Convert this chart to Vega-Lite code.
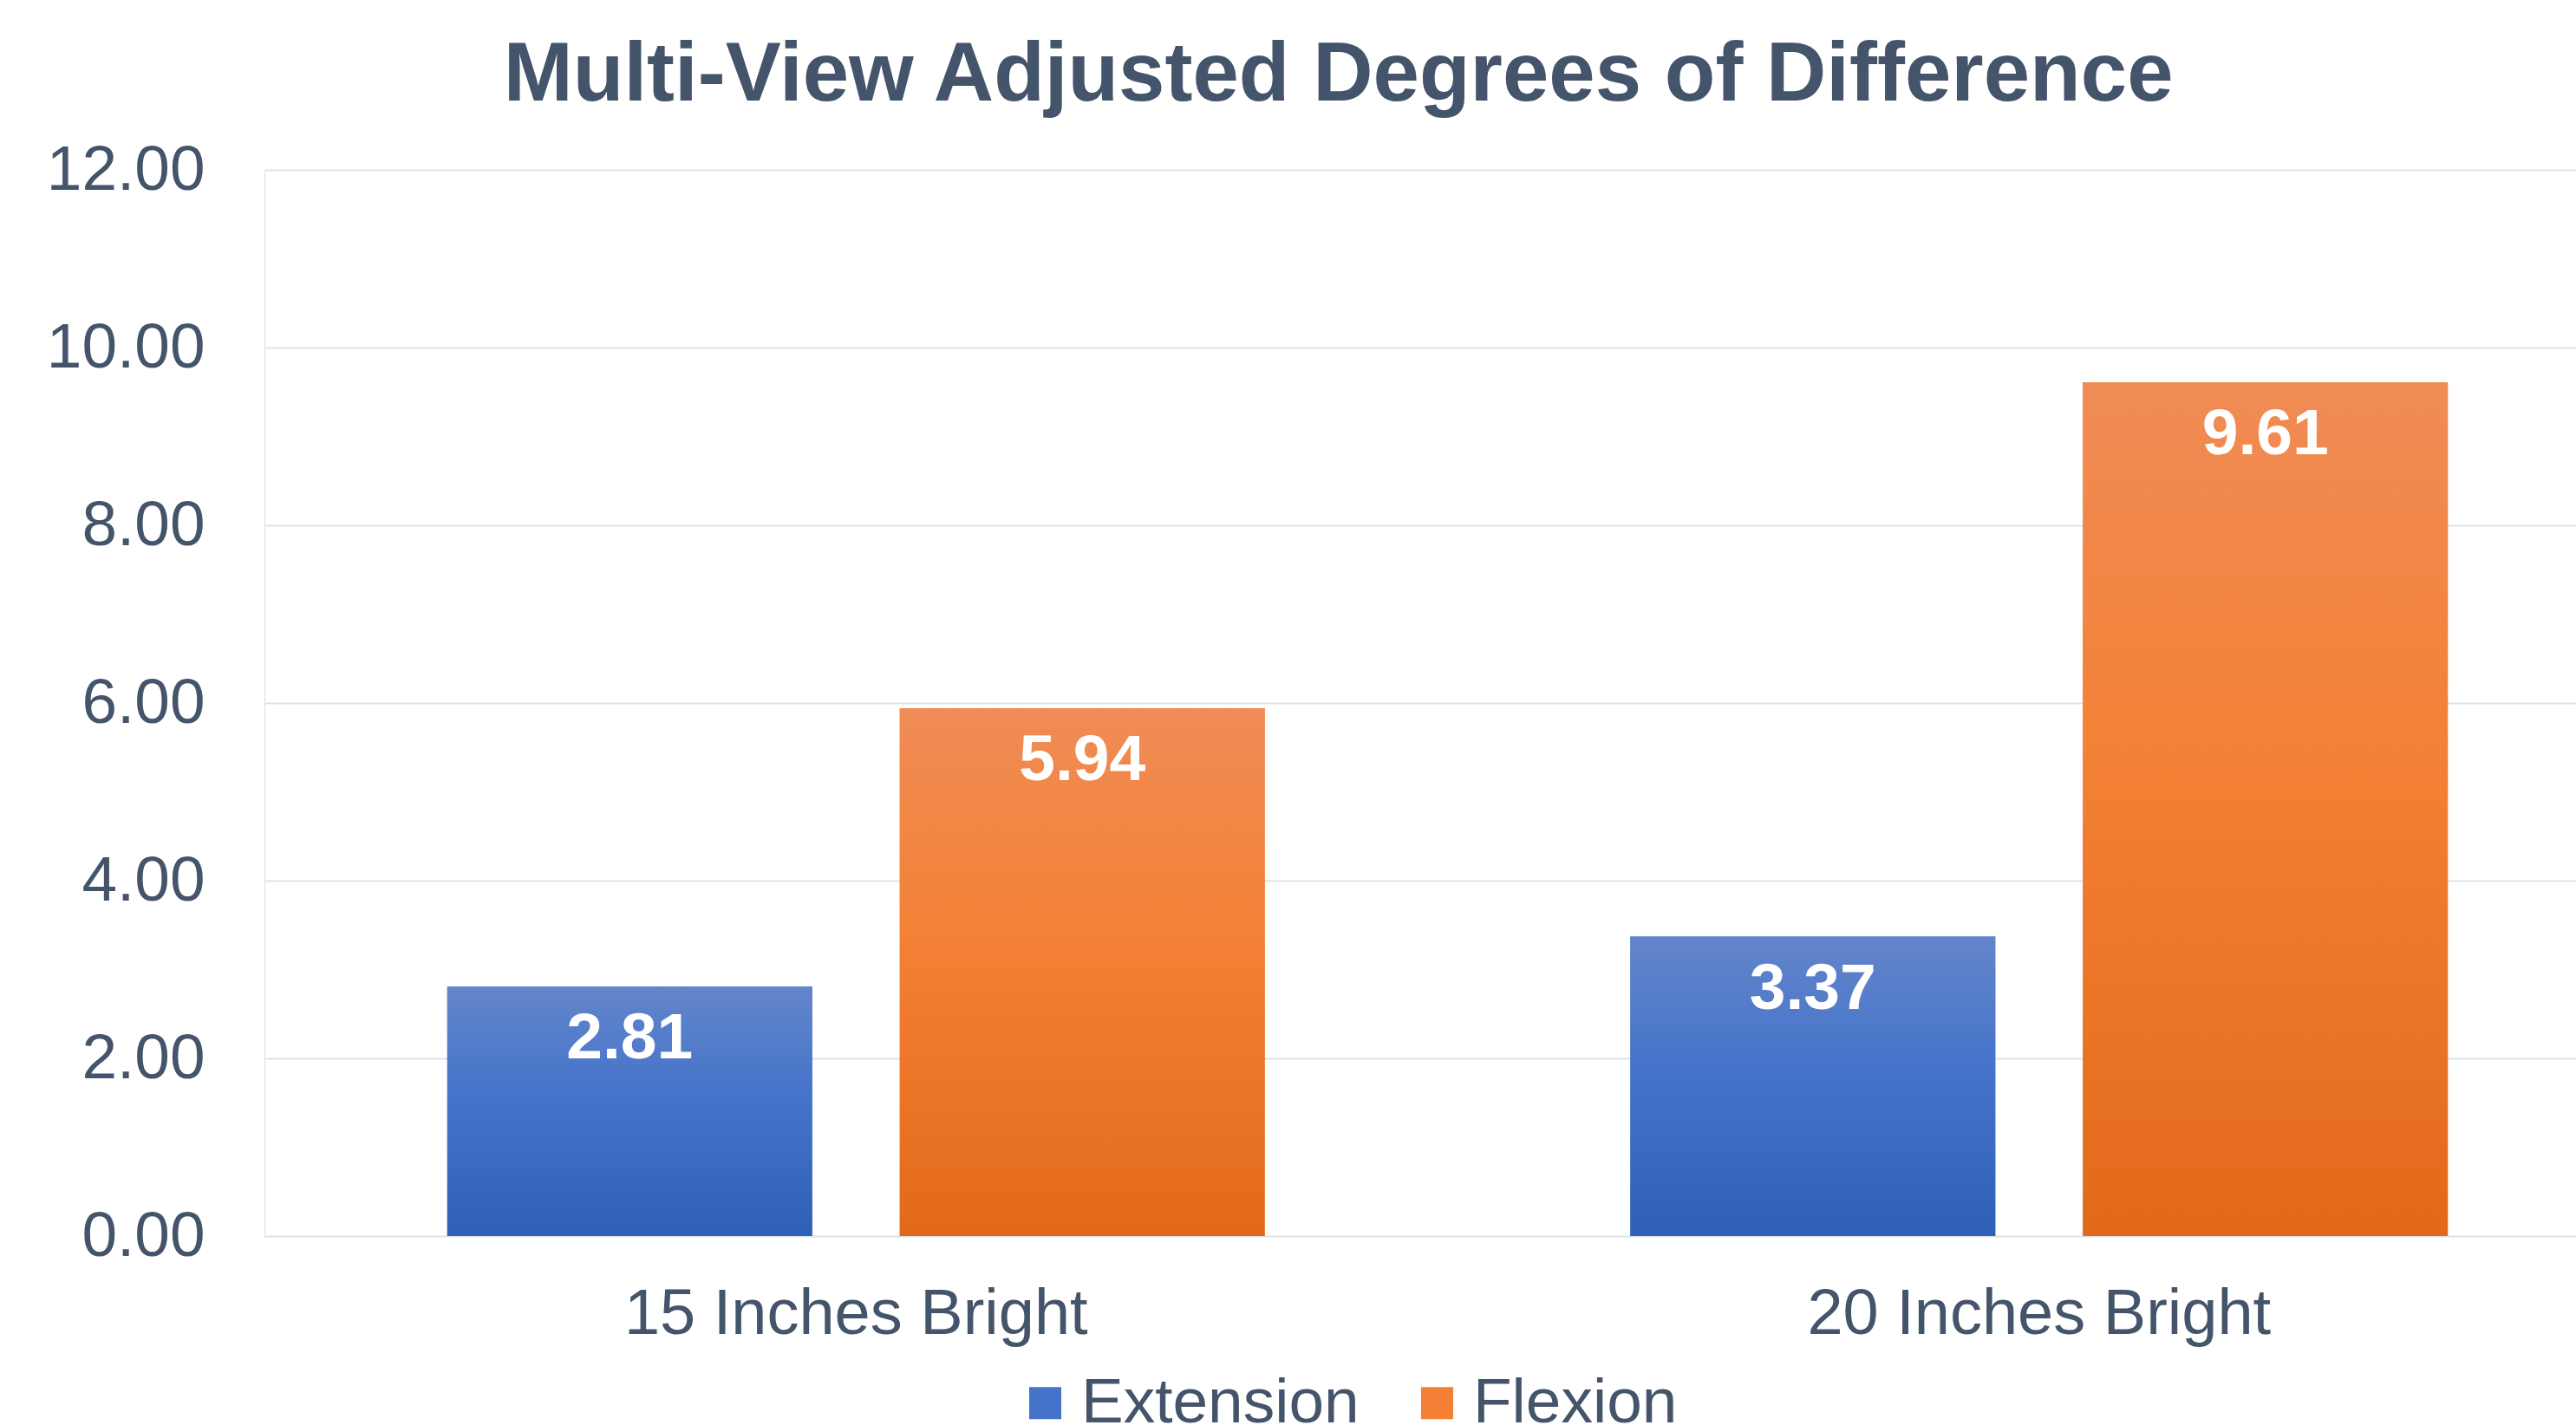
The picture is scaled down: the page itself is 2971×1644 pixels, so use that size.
{
  "$schema": "https://vega.github.io/schema/vega-lite/v6.json",
  "autosize": {"type": "none"},
  "width": 2729,
  "height": 1230,
  "padding": {"left": 305, "top": 196, "right": 0, "bottom": 218},
  "background": "white",
  "title": {
    "text": "Multi-View Adjusted Degrees of Difference",
    "font": "Liberation Sans",
    "fontSize": 96,
    "fontWeight": "bold",
    "color": "#44546A",
    "anchor": "middle",
    "frame": "bounds",
    "baseline": "alphabetic",
    "offset": 41,
    "dy": 93
  },
  "data": {
    "values": [
      {"group": "15 Inches Bright", "series": "Extension", "value": 2.81},
      {"group": "15 Inches Bright", "series": "Flexion", "value": 5.94},
      {"group": "20 Inches Bright", "series": "Extension", "value": 3.37},
      {"group": "20 Inches Bright", "series": "Flexion", "value": 9.61}
    ]
  },
  "encoding": {
    "x": {
      "field": "group",
      "type": "nominal",
      "scale": {"paddingInner": 0, "paddingOuter": 0},
      "axis": {
        "title": null,
        "labelAngle": 0,
        "labelFont": "Liberation Sans",
        "labelFontSize": 74,
        "labelColor": "#44546A",
        "labelBaseline": "alphabetic",
        "labelPadding": 112,
        "labelLimit": 0,
        "ticks": false,
        "tickSize": 0,
        "domain": false,
        "grid": false
      }
    },
    "xOffset": {
      "field": "series",
      "type": "nominal",
      "scale": {"paddingInner": 0.1935, "paddingOuter": 0.404}
    },
    "y": {
      "field": "value",
      "type": "quantitative",
      "scale": {"domain": [0, 12], "nice": false},
      "axis": {
        "title": null,
        "values": [0, 2, 4, 6, 8, 10, 12],
        "format": ".2f",
        "labelFont": "Liberation Sans",
        "labelFontSize": 73,
        "labelColor": "#44546A",
        "labelPadding": 69,
        "labelLimit": 0,
        "ticks": false,
        "tickSize": 0,
        "domain": false,
        "grid": true,
        "gridColor": "#DEE2E8",
        "gridWidth": 2
      }
    }
  },
  "layer": [
    {
      "mark": {"type": "bar"},
      "encoding": {
        "color": {
          "field": "series",
          "type": "nominal",
          "scale": {
            "domain": ["Extension", "Flexion"],
            "range": ["#4473CA", "#F38034"]
          },
          "legend": {
            "title": null,
            "orient": "none",
            "legendX": 864,
            "legendY": 1386,
            "direction": "horizontal",
            "symbolType": "square",
            "symbolSize": 1369,
            "symbolStrokeWidth": 0,
            "labelFont": "Liberation Sans",
            "labelFontSize": 73,
            "labelColor": "#44546A",
            "labelOffset": 5,
            "labelLimit": 0,
            "columnPadding": 53,
            "symbolOpacity": 1
          }
        }
      }
    },
    {
      "mark": {"type": "bar"},
      "encoding": {
        "fill": {
          "condition": {
            "test": "datum.series === 'Extension'",
            "value": {"gradient": "linear", "x1": 0, "y1": 0, "x2": 0, "y2": 1,
              "stops": [{"offset": 0, "color": "#6385CA"}, {"offset": 0.45, "color": "#4473CA"}, {"offset": 1, "color": "#2E60B8"}]}
          },
          "value": {"gradient": "linear", "x1": 0, "y1": 0, "x2": 0, "y2": 1,
            "stops": [{"offset": 0, "color": "#F08C56"}, {"offset": 0.45, "color": "#F38034"}, {"offset": 1, "color": "#E3691A"}]}
        }
      }
    },
    {
      "mark": {
        "type": "text",
        "font": "Liberation Sans",
        "fontSize": 75,
        "fontWeight": "bold",
        "color": "white",
        "baseline": "alphabetic",
        "align": "center",
        "dy": 83
      },
      "encoding": {
        "text": {"field": "value", "type": "quantitative", "format": ".2f"}
      }
    }
  ]
}
